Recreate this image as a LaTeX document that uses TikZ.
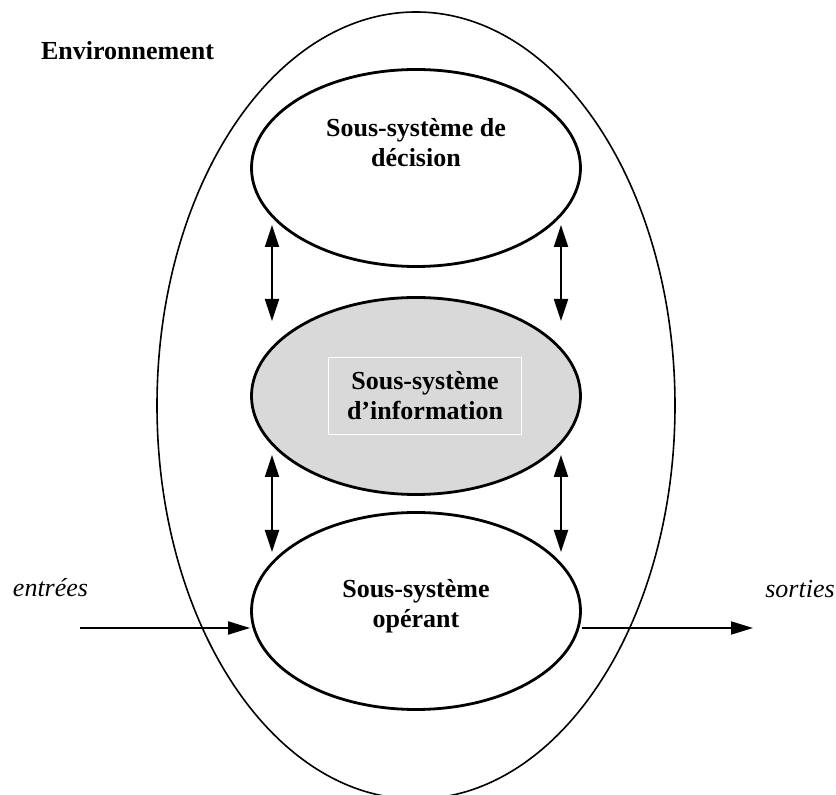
\documentclass[tikz,border=0pt]{standalone}
\usepackage{fontspec}
\setmainfont{Liberation Serif}
\usetikzlibrary{shapes.geometric,arrows.meta}
\definecolor{infogray}{gray}{0.85}

\begin{document}
\begin{tikzpicture}[x=0.5pt,y=-0.5pt,
    subsys/.style={draw, ellipse, line width=1.4pt, inner sep=0pt,
        minimum width=164.5pt, minimum height=98.5pt},
    txt/.style={font=\fontsize{13}{15}\selectfont\bfseries, align=center},
    link/.style={line width=1pt, {Triangle[length=11pt,width=7pt]}-{Triangle[length=11pt,width=7pt]}},
    flow/.style={line width=1pt, -{Triangle[length=11pt,width=6.5pt]}}]

    \useasboundingbox (0,0) rectangle (836,795);

    % --- Ellipses ---
    % Environment around the whole system (its bottom runs off the page)
    \node[draw, ellipse, line width=0.8pt, inner sep=0pt,
        minimum width=259pt, minimum height=393.5pt] (Env) at (416,405.5) {};

    \node[subsys] (Dec) at (416,168) {};
    \node[subsys, fill=infogray] (Info) at (416,396) {};
    \node[subsys] (Oper) at (416,611) {};

    % --- Coordinates for the arrows ---
    \coordinate (DL) at (272,225);
    \coordinate (IL) at (272,321);
    \coordinate (DR) at (561,225);
    \coordinate (IR) at (561,321);
    \coordinate (JL) at (272,455);
    \coordinate (OL) at (272,552);
    \coordinate (JR) at (561,455);
    \coordinate (OR) at (561,552);
    \coordinate (In) at (80,628);
    \coordinate (Out) at (753,628);

    % --- Arrows ---
    \draw[link] (DL) -- (IL);
    \draw[link] (DR) -- (IR);
    \draw[link] (JL) -- (OL);
    \draw[link] (JR) -- (OR);

    \draw[flow] (In) -- (In -| Oper.west);
    \draw[flow] (Out -| Oper.east) -- (Out);

    % --- Labels ---
    \node[txt] (DecText) at (416,143) {Sous-système de\\décision};
    \node[txt, draw=white, line width=0.5pt, fill=infogray,
        minimum width=96.5pt, minimum height=38.5pt] (InfoText) at (425,396) {Sous-système\\d’information};
    \node[txt] (OperText) at (416,606) {Sous-système\\opérant};

    \node[txt, anchor=base] (EnvText) at (127.5,60) {Environnement};
    \node[font=\fontsize{13}{15}\selectfont\itshape, anchor=base] (InText) at (50.5,597) {entrées};
    \node[font=\fontsize{13}{15}\selectfont\itshape, anchor=base] (OutText) at (800,598) {sorties};

\end{tikzpicture}
\end{document}
